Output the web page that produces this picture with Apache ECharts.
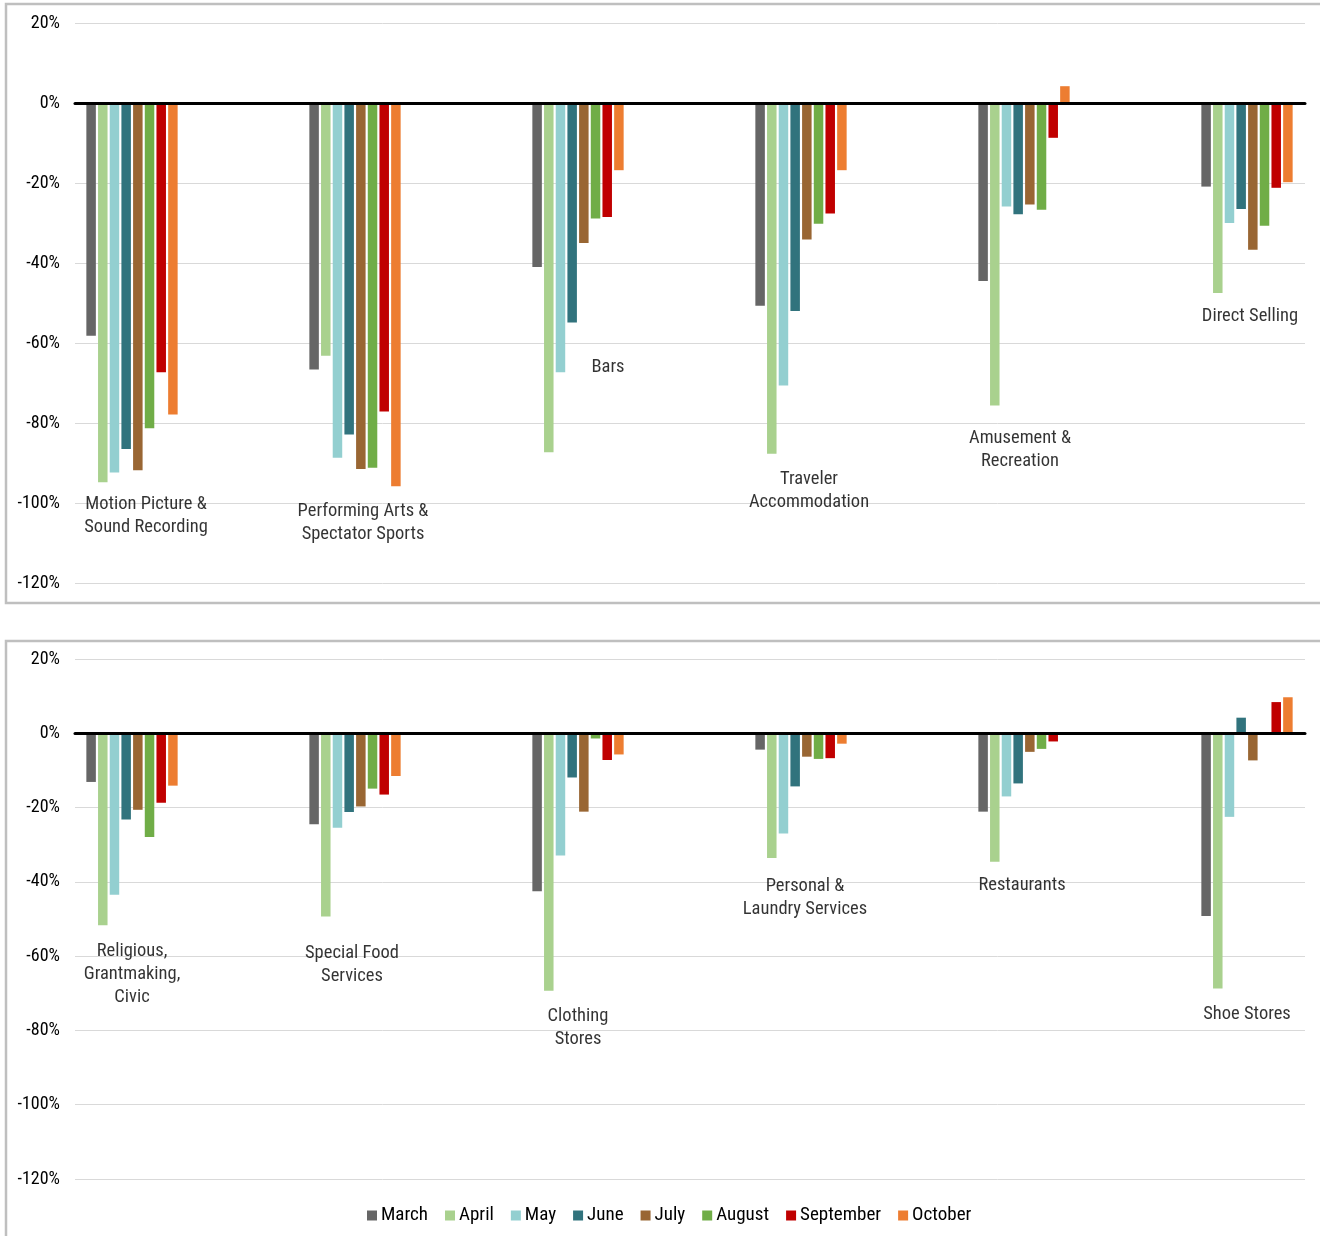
<!DOCTYPE html>
<html>
<head>
<meta charset="utf-8">
<title>Year-over-year change by industry, March–October</title>
<script src="https://cdn.jsdelivr.net/npm/echarts@6/dist/echarts.min.js"></script>
<style>
  html, body { margin: 0; padding: 0; background: #ffffff; overflow: hidden; }
  #chart { width: 1320px; height: 1236px; }
</style>
</head>
<body>
<div id="chart"></div>
<script>
// Months shown in each industry group
const months = ['March', 'April', 'May', 'June', 'July', 'August', 'September', 'October'];

// Industries, upper panel
const topIndustries = [
  'Motion Picture &\nSound Recording',
  'Performing Arts &\nSpectator Sports',
  'Bars',
  'Traveler\nAccommodation',
  'Amusement &\nRecreation',
  'Direct Selling'
];
// Industries, lower panel
const bottomIndustries = [
  'Religious,\nGrantmaking,\nCivic',
  'Special Food\nServices',
  'Clothing\nStores',
  'Personal &\nLaundry Services',
  'Restaurants',
  'Shoe Stores'
];

// Percent change, March..October, per industry
const motionPicture   = [-58.2, -94.8, -92.4, -86.5, -91.8, -81.3, -67.3, -77.9];
const performingArts  = [-66.6, -63.2, -88.7, -82.9, -91.5, -91.2, -77.1, -95.8];
const barsIndustry    = [-41.0, -87.3, -67.3, -54.9, -35.0, -28.9, -28.5, -16.8];
const travelerAccomm  = [-50.7, -87.7, -70.6, -52.0, -34.1, -30.2, -27.6, -16.8];
const amusementRec    = [-44.5, -75.6, -25.9, -27.8, -25.4, -26.7, -8.7, 4.2];
const directSelling   = [-20.9, -47.5, -30.0, -26.5, -36.7, -30.7, -21.2, -19.8];

const religiousCivic  = [-13.1, -51.7, -43.5, -23.2, -20.6, -27.9, -18.7, -14.1];
const specialFood     = [-24.5, -49.3, -25.4, -21.2, -19.7, -14.9, -16.5, -11.5];
const clothingStores  = [-42.5, -69.3, -32.9, -11.9, -21.1, -1.4, -7.2, -5.7];
const personalLaundry = [-4.4, -33.6, -27.0, -14.3, -6.3, -6.9, -6.7, -2.8];
const restaurants     = [-21.1, -34.6, -17.0, -13.5, -5.0, -4.2, -2.2, 0];
const shoeStores      = [-49.2, -68.7, -22.5, 4.2, -7.3, -0.4, 8.4, 9.7];

// Value axis ticks
const yMin = -120, yMax = 20, yStep = 20;

const topValues = [motionPicture, performingArts, barsIndustry, travelerAccomm, amusementRec, directSelling];
const bottomValues = [religiousCivic, specialFood, clothingStores, personalLaundry, restaurants, shoeStores];

// ---- styling ----
const monthColors = ['#666666', '#a9d18e', '#93cfd0', '#31737d', '#996633', '#70ad47', '#c00000', '#ed7d31'];
const FONT = "'Roboto Condensed', 'Liberation Sans', sans-serif";
const TEXT = '#000000';
// nudges [dx, dy] for each industry caption, measured from the group's lowest bar
const topLabelNudge    = [[14, 10.5], [8, 14], [30, -96], [8, 14], [-4, 21], [3, 12]];
const bottomLabelNudge = [[0, 15], [-3, 25], [0, 14], [4, 17], [-2, 12], [0, 14]];

const panels = [
  { names: topIndustries, values: topValues, nudge: topLabelNudge, top: 23, height: 560 },
  { names: bottomIndustries, values: bottomValues, nudge: bottomLabelNudge, top: 659, height: 520 }
];

const grid = [], xAxis = [], yAxis = [], series = [];

panels.forEach((p, k) => {
  const axisGrid = k * 2, barGrid = k * 2 + 1;
  // grid carrying the visible value axis, gridlines and zero line
  grid.push({ left: 75, width: 1230, top: p.top, height: p.height, outerBoundsMode: 'none' });
  // grid carrying the bars: category bands 223px wide
  grid.push({ left: 20.5, width: 1338, top: p.top, height: p.height, outerBoundsMode: 'none' });

  xAxis.push({
    gridIndex: axisGrid, type: 'value', min: 0, max: 1, z: 5,
    axisLine: { show: true, onZero: true, lineStyle: { color: '#000000', width: 3 } },
    axisTick: { show: false }, axisLabel: { show: false }, splitLine: { show: false }
  });
  xAxis.push({ gridIndex: barGrid, type: 'category', data: p.names, show: false });

  yAxis.push({
    gridIndex: axisGrid, type: 'value', min: yMin, max: yMax, interval: yStep,
    axisLine: { show: false }, axisTick: { show: false },
    axisLabel: { formatter: v => v + '%', margin: 15, fontSize: 18, fontFamily: FONT, color: TEXT },
    splitLine: { show: true, lineStyle: { color: '#d9d9d9', width: 1 } }
  });
  yAxis.push({ gridIndex: barGrid, type: 'value', min: yMin, max: yMax, interval: yStep, show: false });

  months.forEach((m, mi) => {
    series.push({
      type: 'bar', name: m, xAxisIndex: barGrid, yAxisIndex: barGrid,
      data: p.values.map(v => v[mi]),
      barWidth: 9.5, barGap: '23%',
      itemStyle: { color: monthColors[mi] },
      animation: false
    });
  });

  // industry captions, hung beneath each group's lowest bar
  series.push({
    type: 'scatter', name: 'captions' + k, xAxisIndex: barGrid, yAxisIndex: barGrid,
    symbolSize: 0, silent: true, animation: false,
    data: p.values.map((v, i) => ({
      value: [i, Math.min(...v)],
      label: { offset: p.nudge[i] }
    })),
    label: {
      show: true, position: 'bottom', distance: 0,
      formatter: d => p.names[d.dataIndex],
      fontSize: 18.5, lineHeight: 23, fontFamily: FONT, color: TEXT, align: 'center'
    }
  });
});

const chart = echarts.init(document.getElementById('chart'), null, { renderer: 'canvas' });
chart.setOption({
  backgroundColor: '#ffffff',
  animation: false,
  grid, xAxis, yAxis, series,
  legend: {
    data: months, top: 1206, left: 367, padding: 0,
    icon: 'rect', itemWidth: 10, itemHeight: 10, itemGap: 17,
    textStyle: { fontSize: 19, fontFamily: FONT, color: TEXT, padding: [0, 0, 0, -1] }
  },
  graphic: [
    { type: 'rect', shape: { x: 6, y: 4, width: 1340, height: 599 }, style: { fill: null, stroke: '#bfbfbf', lineWidth: 2.5 }, silent: true },
    { type: 'rect', shape: { x: 6, y: 641, width: 1340, height: 640 }, style: { fill: null, stroke: '#bfbfbf', lineWidth: 2.5 }, silent: true }
  ]
});
</script>
</body>
</html>
